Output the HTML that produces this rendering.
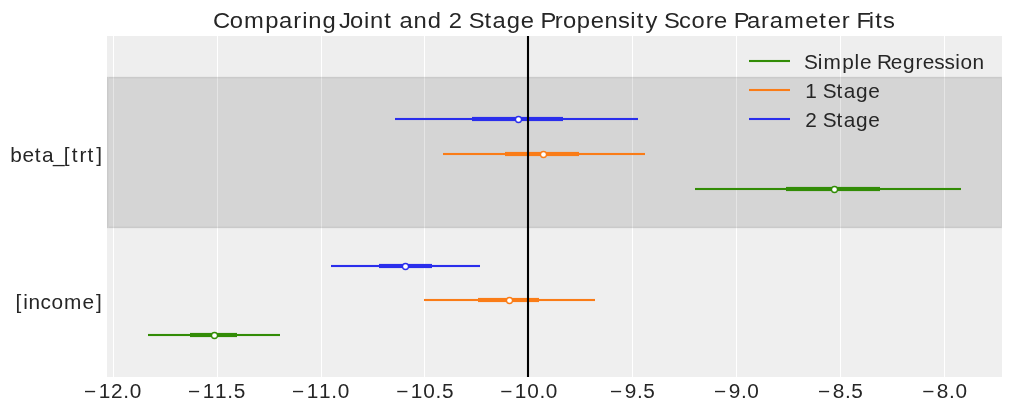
<!DOCTYPE html>
<html><head><meta charset="utf-8">
<style>
html,body{margin:0;padding:0;background:#fff;width:1011px;height:411px;overflow:hidden;}
svg{display:block;will-change:transform;}
text{font-family:"Liberation Sans",sans-serif;fill:#262626;}
</style></head>
<body>
<svg width="1011" height="411" viewBox="0 0 1011 411">
<rect x="0" y="0" width="1011" height="411" fill="#ffffff"/>
<g shape-rendering="crispEdges">
<rect x="107" y="36" width="895" height="341" fill="#eeeeee"/>
<rect x="107" y="228" width="895" height="149" fill="#efefef"/>
<rect x="107" y="77" width="895" height="151" fill="#d5d5d5"/>
<rect x="107" y="77" width="895" height="1" fill="#cacaca"/>
<rect x="107" y="78" width="895" height="1" fill="#d0d0d0"/>
<rect x="107" y="226" width="895" height="1" fill="#d0d0d0"/>
<rect x="107" y="227" width="895" height="1" fill="#cacaca"/>
<rect x="107" y="76" width="895" height="1" fill="#e9e9e9"/>
<rect x="107" y="228" width="895" height="1" fill="#eaeaea"/>
<rect x="107" y="77" width="1" height="151" fill="#cacaca"/>
<rect x="108" y="77" width="1" height="151" fill="#d0d0d0"/>
<rect x="1001" y="77" width="1" height="151" fill="#d0d0d0"/>
<rect x="113" y="36" width="1" height="40" fill="#ffffff"/><rect x="113" y="76" width="1" height="1" fill="#fafafa"/><rect x="113" y="77" width="1" height="1" fill="#d9d9d9"/><rect x="113" y="78" width="1" height="1" fill="#e0e0e0"/><rect x="113" y="79" width="1" height="147" fill="#e5e5e5"/><rect x="113" y="226" width="1" height="1" fill="#e0e0e0"/><rect x="113" y="227" width="1" height="1" fill="#d9d9d9"/><rect x="113" y="228" width="1" height="1" fill="#fafafa"/><rect x="113" y="229" width="1" height="148" fill="#ffffff"/>
<rect x="217" y="36" width="1" height="40" fill="#ffffff"/><rect x="217" y="76" width="1" height="1" fill="#fafafa"/><rect x="217" y="77" width="1" height="1" fill="#d9d9d9"/><rect x="217" y="78" width="1" height="1" fill="#e0e0e0"/><rect x="217" y="79" width="1" height="147" fill="#e5e5e5"/><rect x="217" y="226" width="1" height="1" fill="#e0e0e0"/><rect x="217" y="227" width="1" height="1" fill="#d9d9d9"/><rect x="217" y="228" width="1" height="1" fill="#fafafa"/><rect x="217" y="229" width="1" height="148" fill="#ffffff"/>
<rect x="321" y="36" width="1" height="40" fill="#ffffff"/><rect x="321" y="76" width="1" height="1" fill="#fafafa"/><rect x="321" y="77" width="1" height="1" fill="#d9d9d9"/><rect x="321" y="78" width="1" height="1" fill="#e0e0e0"/><rect x="321" y="79" width="1" height="147" fill="#e5e5e5"/><rect x="321" y="226" width="1" height="1" fill="#e0e0e0"/><rect x="321" y="227" width="1" height="1" fill="#d9d9d9"/><rect x="321" y="228" width="1" height="1" fill="#fafafa"/><rect x="321" y="229" width="1" height="148" fill="#ffffff"/>
<rect x="424" y="36" width="1" height="40" fill="#ffffff"/><rect x="424" y="76" width="1" height="1" fill="#fafafa"/><rect x="424" y="77" width="1" height="1" fill="#d9d9d9"/><rect x="424" y="78" width="1" height="1" fill="#e0e0e0"/><rect x="424" y="79" width="1" height="147" fill="#e5e5e5"/><rect x="424" y="226" width="1" height="1" fill="#e0e0e0"/><rect x="424" y="227" width="1" height="1" fill="#d9d9d9"/><rect x="424" y="228" width="1" height="1" fill="#fafafa"/><rect x="424" y="229" width="1" height="148" fill="#ffffff"/>
<rect x="528" y="36" width="1" height="40" fill="#ffffff"/><rect x="528" y="76" width="1" height="1" fill="#fafafa"/><rect x="528" y="77" width="1" height="1" fill="#d9d9d9"/><rect x="528" y="78" width="1" height="1" fill="#e0e0e0"/><rect x="528" y="79" width="1" height="147" fill="#e5e5e5"/><rect x="528" y="226" width="1" height="1" fill="#e0e0e0"/><rect x="528" y="227" width="1" height="1" fill="#d9d9d9"/><rect x="528" y="228" width="1" height="1" fill="#fafafa"/><rect x="528" y="229" width="1" height="148" fill="#ffffff"/>
<rect x="632" y="36" width="1" height="40" fill="#ffffff"/><rect x="632" y="76" width="1" height="1" fill="#fafafa"/><rect x="632" y="77" width="1" height="1" fill="#d9d9d9"/><rect x="632" y="78" width="1" height="1" fill="#e0e0e0"/><rect x="632" y="79" width="1" height="147" fill="#e5e5e5"/><rect x="632" y="226" width="1" height="1" fill="#e0e0e0"/><rect x="632" y="227" width="1" height="1" fill="#d9d9d9"/><rect x="632" y="228" width="1" height="1" fill="#fafafa"/><rect x="632" y="229" width="1" height="148" fill="#ffffff"/>
<rect x="736" y="36" width="1" height="40" fill="#ffffff"/><rect x="736" y="76" width="1" height="1" fill="#fafafa"/><rect x="736" y="77" width="1" height="1" fill="#d9d9d9"/><rect x="736" y="78" width="1" height="1" fill="#e0e0e0"/><rect x="736" y="79" width="1" height="147" fill="#e5e5e5"/><rect x="736" y="226" width="1" height="1" fill="#e0e0e0"/><rect x="736" y="227" width="1" height="1" fill="#d9d9d9"/><rect x="736" y="228" width="1" height="1" fill="#fafafa"/><rect x="736" y="229" width="1" height="148" fill="#ffffff"/>
<rect x="840" y="36" width="1" height="40" fill="#ffffff"/><rect x="840" y="76" width="1" height="1" fill="#fafafa"/><rect x="840" y="77" width="1" height="1" fill="#d9d9d9"/><rect x="840" y="78" width="1" height="1" fill="#e0e0e0"/><rect x="840" y="79" width="1" height="147" fill="#e5e5e5"/><rect x="840" y="226" width="1" height="1" fill="#e0e0e0"/><rect x="840" y="227" width="1" height="1" fill="#d9d9d9"/><rect x="840" y="228" width="1" height="1" fill="#fafafa"/><rect x="840" y="229" width="1" height="148" fill="#ffffff"/>
<rect x="944" y="36" width="1" height="40" fill="#ffffff"/><rect x="944" y="76" width="1" height="1" fill="#fafafa"/><rect x="944" y="77" width="1" height="1" fill="#d9d9d9"/><rect x="944" y="78" width="1" height="1" fill="#e0e0e0"/><rect x="944" y="79" width="1" height="147" fill="#e5e5e5"/><rect x="944" y="226" width="1" height="1" fill="#e0e0e0"/><rect x="944" y="227" width="1" height="1" fill="#d9d9d9"/><rect x="944" y="228" width="1" height="1" fill="#fafafa"/><rect x="944" y="229" width="1" height="148" fill="#ffffff"/>
<rect x="395" y="118" width="243" height="2" fill="#2a2eec"/><rect x="395" y="117" width="243" height="1" fill="#2a2eec" fill-opacity="0.05"/><rect x="395" y="120" width="243" height="1" fill="#2a2eec" fill-opacity="0.05"/><rect x="472" y="116" width="91" height="1" fill="#2a2eec" fill-opacity="0.085"/><rect x="472" y="121" width="91" height="1" fill="#2a2eec" fill-opacity="0.085"/><rect x="472" y="117" width="91" height="4" fill="#2a2eec"/>
<rect x="443" y="153" width="202" height="2" fill="#fa7c17"/><rect x="443" y="152" width="202" height="1" fill="#fa7c17" fill-opacity="0.05"/><rect x="443" y="155" width="202" height="1" fill="#fa7c17" fill-opacity="0.05"/><rect x="505" y="151" width="74" height="1" fill="#fa7c17" fill-opacity="0.085"/><rect x="505" y="156" width="74" height="1" fill="#fa7c17" fill-opacity="0.085"/><rect x="505" y="152" width="74" height="4" fill="#fa7c17"/>
<rect x="695" y="188" width="266" height="2" fill="#328c06"/><rect x="695" y="187" width="266" height="1" fill="#328c06" fill-opacity="0.05"/><rect x="695" y="190" width="266" height="1" fill="#328c06" fill-opacity="0.05"/><rect x="786" y="186" width="94" height="1" fill="#328c06" fill-opacity="0.085"/><rect x="786" y="191" width="94" height="1" fill="#328c06" fill-opacity="0.085"/><rect x="786" y="187" width="94" height="4" fill="#328c06"/>
<rect x="331" y="265" width="149" height="2" fill="#2a2eec"/><rect x="331" y="264" width="149" height="1" fill="#2a2eec" fill-opacity="0.05"/><rect x="331" y="267" width="149" height="1" fill="#2a2eec" fill-opacity="0.05"/><rect x="379" y="263" width="53" height="1" fill="#2a2eec" fill-opacity="0.085"/><rect x="379" y="268" width="53" height="1" fill="#2a2eec" fill-opacity="0.085"/><rect x="379" y="264" width="53" height="4" fill="#2a2eec"/>
<rect x="424" y="299" width="171" height="2" fill="#fa7c17"/><rect x="424" y="298" width="171" height="1" fill="#fa7c17" fill-opacity="0.05"/><rect x="424" y="301" width="171" height="1" fill="#fa7c17" fill-opacity="0.05"/><rect x="478" y="297" width="61" height="1" fill="#fa7c17" fill-opacity="0.085"/><rect x="478" y="302" width="61" height="1" fill="#fa7c17" fill-opacity="0.085"/><rect x="478" y="298" width="61" height="4" fill="#fa7c17"/>
<rect x="148" y="334" width="132" height="2" fill="#328c06"/><rect x="148" y="333" width="132" height="1" fill="#328c06" fill-opacity="0.05"/><rect x="148" y="336" width="132" height="1" fill="#328c06" fill-opacity="0.05"/><rect x="190" y="332" width="47" height="1" fill="#328c06" fill-opacity="0.085"/><rect x="190" y="337" width="47" height="1" fill="#328c06" fill-opacity="0.085"/><rect x="190" y="333" width="47" height="4" fill="#328c06"/>
</g>
<g fill="#ffffff" stroke-width="1.3">
<circle cx="518.5" cy="119.5" r="3.0" stroke="#2a2eec"/>
<circle cx="543.5" cy="154.5" r="3.0" stroke="#fa7c17"/>
<circle cx="834.5" cy="189.5" r="3.0" stroke="#328c06"/>
<circle cx="405.5" cy="266.5" r="3.0" stroke="#2a2eec"/>
<circle cx="509.5" cy="300.5" r="3.0" stroke="#fa7c17"/>
<circle cx="214.5" cy="335.5" r="3.0" stroke="#328c06"/>
</g>
<g shape-rendering="crispEdges">
<rect x="527" y="36" width="2" height="341" fill="#000000"/>
<rect x="526" y="36" width="1" height="341" fill="#000000" fill-opacity="0.046"/>
<rect x="529" y="36" width="1" height="341" fill="#000000" fill-opacity="0.046"/>
<rect x="749" y="60" width="41" height="2" fill="#328c06"/>
<rect x="749" y="59" width="41" height="1" fill="#328c06" fill-opacity="0.048"/>
<rect x="749" y="62" width="41" height="1" fill="#328c06" fill-opacity="0.048"/>
<rect x="749" y="89" width="41" height="2" fill="#fa7c17"/>
<rect x="749" y="88" width="41" height="1" fill="#fa7c17" fill-opacity="0.048"/>
<rect x="749" y="91" width="41" height="1" fill="#fa7c17" fill-opacity="0.048"/>
<rect x="749" y="118" width="41" height="2" fill="#2a2eec"/>
<rect x="749" y="117" width="41" height="1" fill="#2a2eec" fill-opacity="0.048"/>
<rect x="749" y="120" width="41" height="1" fill="#2a2eec" fill-opacity="0.048"/>
</g>
<text transform="scale(1.07,1.0)" x="199.13 214.75 228.08 247.97 260.83 274.12 282.47 288.15 301.47 304.27 316.79 327.12 340.09 345.78 359.23 362.04 373.47 386.46 399.75 402.56 419.46 422.26 437.98 452.77 460.39 473.52 486.59 489.39 505.05 518.47 526.10 539.06 552.18 564.97 577.60 589.08 595.04 603.23 606.04 620.52 634.58 646.31 659.48 667.27 670.08 685.74 698.03 711.31 719.32 732.77 752.57 765.64 773.52 786.60 789.40 800.49 812.00 817.97 825.29" y="27.75" font-size="22.22">Comparing Joint and 2 Stage Propensity Score Parameter Fits</text>
<text transform="scale(1.07,1.0)" x="9.59 21.13 32.60 39.28 49.53 59.66 67.14 74.30 81.78 89.86" y="161.75" font-size="19.44">beta_[trt]</text>
<text transform="scale(1.07,1.0)" x="14.45 21.74 26.73 37.86 48.16 59.84 77.20 89.61" y="308.75" font-size="19.44">[income]</text>
<text transform="scale(1.07,1.0)" x="751.50 764.30 769.68 787.10 798.67 803.67 806.47 819.68 832.52 843.85 855.57 862.44 873.18 882.67 892.72 897.56 908.86" y="68.75" font-size="19.44">Simple Regression</text>
<text transform="scale(1.07,1.0)" x="752.68 755.49 768.91 781.89 788.56 800.06 811.51" y="97.75" font-size="19.44">1 Stage</text>
<text transform="scale(1.07,1.0)" x="752.64 755.44 768.88 781.85 788.53 800.02 811.47" y="126.75" font-size="19.44">2 Stage</text>
<text transform="scale(1.07,1.0)" x="78.56 92.21 103.79 115.27 121.25" y="397.75" font-size="19.44">−12.0</text>
<text transform="scale(1.07,1.0)" x="175.76 189.40 201.00 212.46 218.48" y="397.75" font-size="19.44">−11.5</text>
<text transform="scale(1.07,1.0)" x="272.95 286.60 298.19 309.66 315.64" y="397.75" font-size="19.44">−11.0</text>
<text transform="scale(1.07,1.0)" x="370.27 383.91 395.57 406.97 412.99" y="397.75" font-size="19.44">−10.5</text>
<text transform="scale(1.07,1.0)" x="467.46 481.11 492.76 504.17 510.15" y="397.75" font-size="19.44">−10.0</text>
<text transform="scale(1.07,1.0)" x="570.15 583.89 595.26 601.27" y="397.75" font-size="19.44">−9.5</text>
<text transform="scale(1.07,1.0)" x="667.35 681.09 692.46 698.44" y="397.75" font-size="19.44">−9.0</text>
<text transform="scale(1.07,1.0)" x="764.54 778.25 789.65 795.67" y="397.75" font-size="19.44">−8.5</text>
<text transform="scale(1.07,1.0)" x="861.86 875.56 886.97 892.95" y="397.75" font-size="19.44">−8.0</text>
</svg>
</body></html>
